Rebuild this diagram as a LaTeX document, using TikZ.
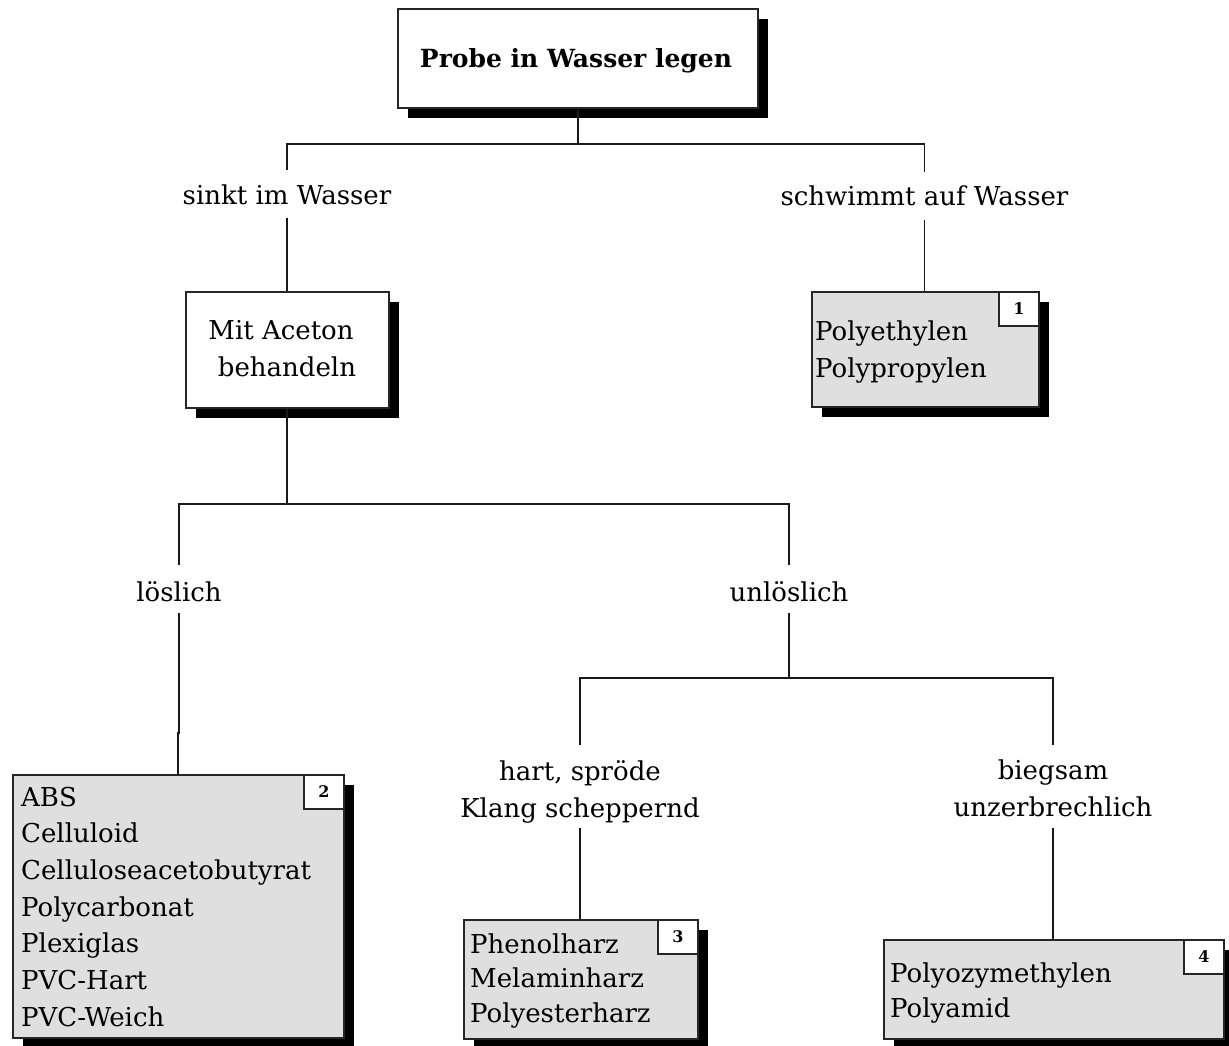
\documentclass[tikz,border=0pt]{standalone}
\usepackage{fontspec}
\setmainfont{DejaVu Serif}
\usetikzlibrary{shadows}
\begin{document}
\begin{tikzpicture}[x=1pt,y=-1pt,
  conn/.style={draw=black!90, line width=1.8pt},
  boxbase/.style={draw=black!85, line width=1.6pt, anchor=north west, inner sep=0pt,
    drop shadow={shadow xshift=10pt, shadow yshift=-10pt, fill=black, opacity=1}},
  whitebox/.style={boxbase, fill=white},
  graybox/.style={boxbase, fill=gray!25},
  numbox/.style={draw=black!85, line width=1.5pt, fill=white, anchor=north east,
    minimum width=40pt, minimum height=34pt, inner sep=0pt, font=\bfseries\fontsize{16}{16}\selectfont},
  lbl/.style={inner sep=0pt, anchor=base, font=\fontsize{26}{37}\selectfont},
  txt/.style={inner sep=0pt, anchor=base west, font=\fontsize{26}{37}\selectfont},
  ctxt/.style={inner sep=0pt, anchor=base, font=\fontsize{26}{37}\selectfont},
]
\useasboundingbox (0,0) rectangle (1229,1045);
\clip (0,0) rectangle (1229,1045);

% boxes
\node[whitebox, minimum width=360pt, minimum height=99pt] (top) at (397,8) {};
\node[inner sep=0pt, anchor=base, font=\bfseries\fontsize{25}{30}\selectfont] (toptxt) at (576,67) {Probe in Wasser legen};

\node[whitebox, minimum width=203pt, minimum height=116pt] (aceton) at (185,291) {};
\node[ctxt] (acl1) at (281,339) {Mit Aceton};
\node[ctxt] (acl2) at (287,376) {behandeln};

\node[graybox, minimum width=227pt, minimum height=115pt] (b1) at (811,291) {};
\node[numbox] (n1) at (b1.north east) {1};
\node[txt] (b1l1) at (815,340) {Polyethylen};
\node[txt] (b1l2) at (815,377) {Polypropylen};

\node[graybox, minimum width=331pt, minimum height=263pt] (b2) at (12,774) {};
\node[numbox] (n2) at (b2.north east) {2};
\foreach \t [count=\i] in {ABS,Celluloid,Celluloseacetobutyrat,Polycarbonat,Plexiglas,PVC-Hart,PVC-Weich}
  \node[txt] (b2l\i) at (21,{806+36.67*(\i-1)}) {\t};

\node[graybox, minimum width=234pt, minimum height=119pt] (b3) at (463,919) {};
\node[numbox] (n3) at (b3.north east) {3};
\foreach \t [count=\i] in {Phenolharz,Melaminharz,Polyesterharz}
  \node[txt] (b3l\i) at (470,{953+34.5*(\i-1)}) {\t};

\node[graybox, minimum width=340pt, minimum height=99pt] (b4) at (883,939) {};
\node[numbox] (n4) at (b4.north east) {4};
\node[txt] (b4l1) at (890,982) {Polyozymethylen};
\node[txt] (b4l2) at (890,1017) {Polyamid};

% labels (anchored at first baseline; text height/depth fix the gaps in the lines)
\node[lbl, text height=34pt, text depth=14pt] (sinkt) at (287,204) {sinkt im Wasser};
\node[lbl, text height=33pt, text depth=15pt] (schw) at (924.5,205) {schwimmt auf Wasser};
\node[lbl, text height=36pt, text depth=12pt] (los) at (179,601) {löslich};
\node[lbl, text height=36pt, text depth=12pt] (unlos) at (789,601) {unlöslich};
\node[lbl, text height=35pt, text depth=48pt] (hart) at (580,780)
  {\begin{tabular}[t]{@{}c@{}}hart, spröde\\Klang scheppernd\end{tabular}};
\node[lbl, text height=34pt, text depth=49pt] (bieg) at (1053,779)
  {\begin{tabular}[t]{@{}c@{}}biegsam\\unzerbrechlich\end{tabular}};

% connectors
\draw[conn] (top.south) -- ++(0,35) -| (sinkt.north);
\draw[conn] (top.south) -- ++(0,35) -| (schw.north);
\draw[conn] (sinkt.south) -- (sinkt.south |- aceton.north);
\draw[conn] (schw.south) -- (schw.south |- b1.north);
\draw[conn] (aceton.south) -- ++(0,95) -| (los.north);
\draw[conn] (aceton.south) -- ++(0,95) -| (unlos.north);
\draw[conn] (los.south) -- ++(0,120) -| (b2.north);
\draw[conn] (unlos.south) -- ++(0,65) -| (hart.north);
\draw[conn] (unlos.south) -- ++(0,65) -| (bieg.north);
\draw[conn] (hart.south) -- (hart.south |- b3.north);
\draw[conn] (bieg.south) -- (bieg.south |- b4.north);
\end{tikzpicture}
\end{document}
